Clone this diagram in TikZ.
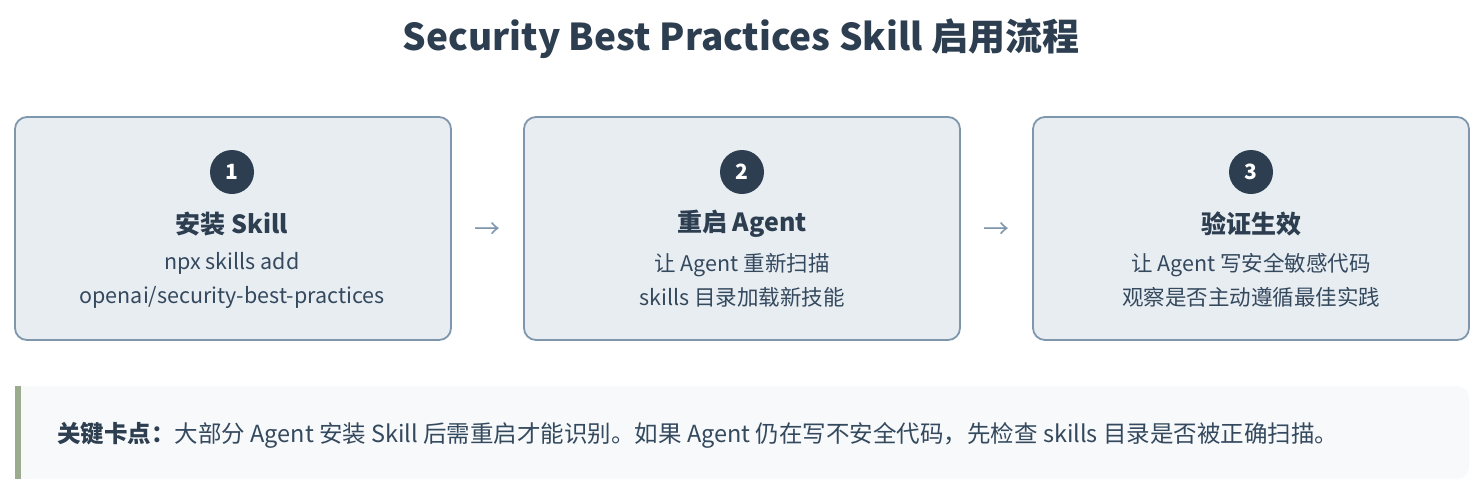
\documentclass[tikz,border=0pt]{standalone}
\usepackage{fontspec}
\usetikzlibrary{calc}
\setmainfont{Noto Sans CJK SC}
\definecolor{dark}{HTML}{2C3E50}
\definecolor{body}{HTML}{34495E}
\definecolor{boxfill}{HTML}{E8EDF2}
\definecolor{boxline}{HTML}{7F97AD}
\definecolor{notefill}{HTML}{F7F9FA}
\definecolor{notebar}{HTML}{9AAB8E}
\begin{document}
\begin{tikzpicture}[x=1pt,y=1pt,
  stepbox/.style={draw=boxline,line width=1.8pt,fill=boxfill,rounded corners=12pt,minimum width=436pt,minimum height=223pt,inner sep=0pt},
  numdot/.style={circle,fill=dark,minimum size=44pt,inner sep=0pt,text=white,font=\fontsize{21}{24}\selectfont\bfseries},
  steptitle/.style={text=dark,font=\fontsize{25}{28}\selectfont\bfseries,inner sep=0pt},
  steptext/.style={text=body,font=\fontsize{21.5}{34}\selectfont,align=center,inner sep=0pt},
  flowarrow/.style={text=boxline,font=\fontsize{26}{28}\selectfont,inner sep=0pt}]
\useasboundingbox (0,0) rectangle (1482,-496);
\fill[white] (0,0) rectangle (1482,-496);
\node[text=dark,font=\fontsize{37}{42}\selectfont\bfseries,inner sep=0pt] (title) at (741,-39) {Security Best Practices Skill 启用流程};
% boxes
\node[stepbox] (b1) at (233,-228.5) {};
\node[stepbox] (b2) at (742,-228.5) {};
\node[stepbox] (b3) at (1251,-228.5) {};
\node[numdot] (n1) at (232,-172) {1};
\node[numdot] (n2) at (742,-172) {2};
\node[numdot] (n3) at (1251,-172) {3};
\node[steptitle] (t1) at (232,-224) {安装 Skill};
\node[steptitle] (t2) at (742,-224) {重启 Agent};
\node[steptitle] (t3) at (1251,-224) {验证生效};
\node[steptext] (d1) at (232,-280) {npx skills add\\openai/security-best-practices};
\node[steptext] (d2) at (742,-280) {让 Agent 重新扫描\\skills 目录加载新技能};
\node[steptext] (d3) at (1251,-280) {让 Agent 写安全敏感代码\\观察是否主动遵循最佳实践};
\node[flowarrow] (a1) at ($(b1.east)!0.5!(b2.west)+(0,-2)$) {→};
\node[flowarrow] (a2) at ($(b2.east)!0.5!(b3.west)+(0,-2)$) {→};
% note
\fill[notefill,rounded corners=12pt] (15,-386) rectangle (1469,-479);
\fill[notefill] (15,-386) rectangle (40,-479);
\fill[notebar] (15,-386) rectangle (21,-479);
\node[anchor=west,text=body,font=\fontsize{23.5}{26}\selectfont,inner sep=0pt] (note) at (57,-435) {{\bfseries\color{dark}关键卡点：}大部分 Agent 安装 Skill 后需重启才能识别。如果 Agent 仍在写不安全代码，先检查 skills 目录是否被正确扫描。};
\end{tikzpicture}
\end{document}
